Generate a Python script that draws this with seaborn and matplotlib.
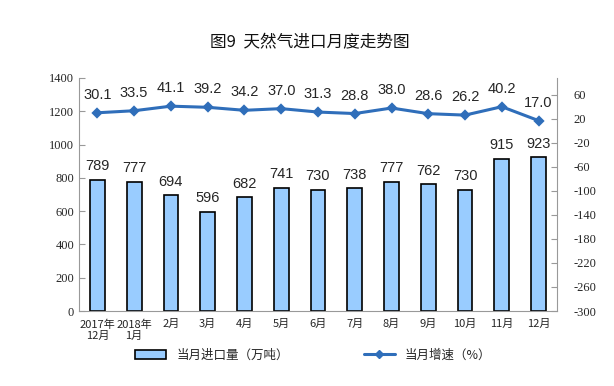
import matplotlib
matplotlib.use("Agg")
import matplotlib.pyplot as plt
import seaborn as sns
import pandas as pd
from matplotlib.patches import Patch
from matplotlib.lines import Line2D

months = ["2017年\n12月", "2018年\n1月", "2月", "3月", "4月", "5月", "6月",
          "7月", "8月", "9月", "10月", "11月", "12月"]
imports = [789, 777, 694, 596, 682, 741, 730, 738, 777, 762, 730, 915, 923]
growth = [30.1, 33.5, 41.1, 39.2, 34.2, 37.0, 31.3, 28.8, 38.0, 28.6, 26.2, 40.2, 17.0]

df = pd.DataFrame({"month": months, "imports": imports, "growth": growth})

sns.set_style("white")
plt.rcParams["font.family"] = ["Noto Sans CJK SC", "DejaVu Sans"]
plt.rcParams["axes.unicode_minus"] = False

bar_color = "#99CCFF"
line_color = "#2F6EBA"
cjk = ["Noto Sans CJK SC", "DejaVu Sans"]
num_font = "Liberation Serif"

fig = plt.figure(figsize=(6.14, 3.86), dpi=100)
ax = fig.add_axes([79 / 614, 75 / 386, (557 - 79) / 614, (311 - 78) / 386])

sns.barplot(data=df, x="month", y="imports", color=bar_color, width=0.4,
            edgecolor="black", linewidth=1.2, saturation=1, ax=ax)
ax.set_ylim(0, 1400)
ax.set_yticks(range(0, 1401, 200))
ax.set_xlim(-0.5, len(months) - 0.5)

for i, v in enumerate(imports):
    ax.text(i, v + 40, str(v), ha="center", va="bottom", fontsize=10.5,
            family="Liberation Sans")

ax2 = ax.twinx()
sns.pointplot(data=df, x="month", y="growth", color=line_color, markers="D",
              markersize=4, linewidth=2.2, ax=ax2)
ax2.set_ylim(-300, 88)
ax2.set_yticks(range(-300, 61, 40))
ax2.set_xlim(-0.5, len(months) - 0.5)

for i, v in enumerate(growth):
    ax2.text(i, v + 18, f"{v:.1f}", ha="center", va="bottom", fontsize=10.5,
             family="Liberation Sans")

for a in (ax, ax2):
    a.set_xlabel("")
    a.set_ylabel("")
    for s in a.spines.values():
        s.set_visible(False)

ax.spines["left"].set_visible(True)
ax.spines["bottom"].set_visible(True)
ax2.spines["right"].set_visible(True)
for s in (ax.spines["left"], ax.spines["bottom"], ax2.spines["right"]):
    s.set_color("#999999")
    s.set_linewidth(0.8)

ax.set_xticks(range(len(months)))
ax.set_xticklabels(months, family=cjk, fontsize=8, linespacing=1.1)
ax.tick_params(axis="x", length=0, pad=6)
ax.set_xticks([i + 0.5 for i in range(len(months))], minor=True)
ax.tick_params(axis="x", which="minor", length=3, color="#999999", direction="in")

ax.tick_params(axis="y", length=4, color="#999999", direction="in", labelsize=9)
ax2.tick_params(axis="y", length=4, color="#999999", direction="in", labelsize=9,
                pad=12)
for lab in ax.get_yticklabels() + ax2.get_yticklabels():
    lab.set_family(num_font)

fig.text(0.505, 0.89, "图9  天然气进口月度走势图", ha="center", va="center",
         fontsize=12, family=cjk, weight="medium", color="#111111")

handles = [
    Patch(facecolor=bar_color, edgecolor="black", linewidth=1.2),
    Line2D([0], [0], color=line_color, linewidth=2.2, marker="D", markersize=4),
]
fig.legend(handles, ["当月进口量（万吨）", "当月增速（%）"], loc="center",
           bbox_to_anchor=(0.51, 0.08), ncol=2, frameon=False,
           columnspacing=6, handlelength=2.5, prop={"family": cjk, "size": 9})

fig.savefig("out.png", dpi=100)
